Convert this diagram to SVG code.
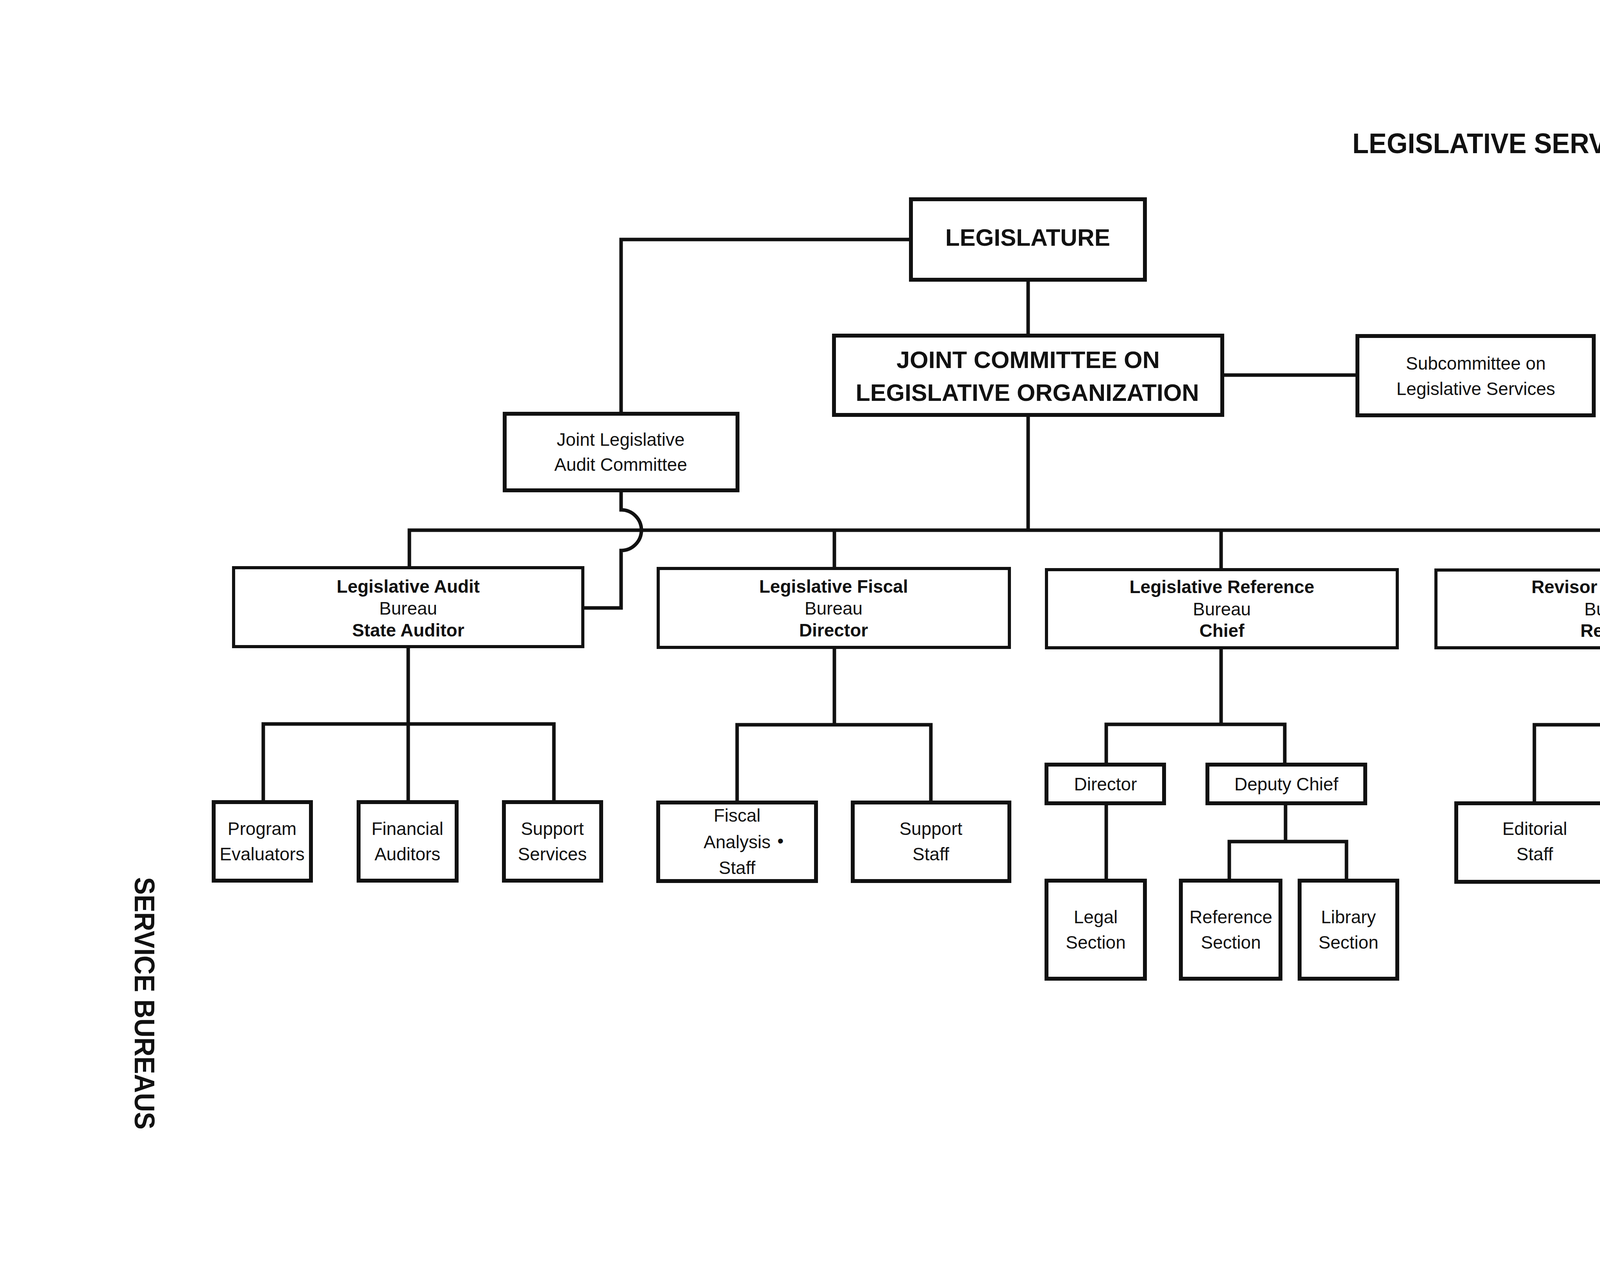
<svg xmlns="http://www.w3.org/2000/svg" width="5220" height="3248" viewBox="0 0 5220 3248">
<style>
.box{fill:#fff;stroke:#111;stroke-width:10}
.bb{stroke-width:8}
.ln{fill:none;stroke:#111;stroke-width:9;stroke-linejoin:miter}
.t{font-family:"Liberation Sans",Arial,sans-serif;font-size:46px;text-anchor:middle;fill:#111}
.b{font-weight:bold}
.hd{font-family:"Liberation Sans",Arial,sans-serif;font-weight:bold;fill:#111}
.sf{font-family:"Liberation Serif","Times New Roman",serif;fill:#111}
</style>
<rect width="5220" height="3248" fill="#fff"/>

<g id="page-labels">
<text class="hd" x="3462" y="392" font-size="72" textLength="1125" lengthAdjust="spacingAndGlyphs">LEGISLATIVE SERVICE BUREAUS</text>
<text class="hd" font-size="72" transform="translate(345,2245) rotate(90)" textLength="646" lengthAdjust="spacingAndGlyphs">SERVICE BUREAUS</text>
<text class="sf" transform="translate(4782,1136) rotate(90)" textLength="778" lengthAdjust="spacingAndGlyphs"><tspan font-size="88">L</tspan><tspan font-size="66">EGISLATIVE </tspan><tspan font-size="88">A</tspan><tspan font-size="66">GENCIES</tspan></text>
<text class="sf" font-weight="bold" font-size="86" transform="translate(4782,2778) rotate(90)" textLength="122" lengthAdjust="spacingAndGlyphs">343</text>
</g>

<g id="connectors">
<path class="ln" d="M2332,613 H1590 V1059"/>
<path class="ln" d="M2632,716 V859"/>
<path class="ln" d="M3129,960 H3475"/>
<path class="ln" d="M2632,1062 V1357"/>
<path class="ln" d="M1048,1453 V1357 H4131 V1459"/>
<path class="ln" d="M2136,1357 V1455"/>
<path class="ln" d="M3126,1357 V1458"/>
<path class="ln" d="M1590,1255 V1305 A52,52 0 0 1 1590,1409 V1556 H1492"/>
<path class="ln" d="M1045,1655 V2053"/>
<path class="ln" d="M674,2053 V1853 H1418 V2053"/>
<path class="ln" d="M2136,1657 V1855"/>
<path class="ln" d="M1887,2054 V1855 H2383 V2054"/>
<path class="ln" d="M3126,1658 V1854"/>
<path class="ln" d="M2832,1957 V1854 H3289 V1957"/>
<path class="ln" d="M2832,2056 V2254"/>
<path class="ln" d="M3291,2056 V2154"/>
<path class="ln" d="M3147,2254 V2154 H3447 V2254"/>
<path class="ln" d="M4131,1658 V1855"/>
<path class="ln" d="M3928,2056 V1855 H4380 V2056"/>
</g>

<g id="legislature">
<rect class="box" x="2332" y="510" width="599" height="206"/>
<text class="hd" x="2631" y="629" font-size="62" text-anchor="middle" textLength="422" lengthAdjust="spacingAndGlyphs">LEGISLATURE</text>
</g>

<g id="joint-committee">
<rect class="box" x="2135" y="859" width="994" height="203"/>
<text class="hd" x="2632" y="942" font-size="62" text-anchor="middle" textLength="674" lengthAdjust="spacingAndGlyphs">JOINT COMMITTEE ON</text>
<text class="hd" x="2630" y="1026" font-size="62" text-anchor="middle" textLength="879" lengthAdjust="spacingAndGlyphs">LEGISLATIVE ORGANIZATION</text>
</g>

<g id="subcommittee">
<rect class="box" x="3475" y="860" width="605" height="203"/>
<text class="t" x="3778" y="946">Subcommittee on</text>
<text class="t" x="3778" y="1011">Legislative Services</text>
</g>

<g id="audit-committee">
<rect class="box" x="1292" y="1059" width="596" height="196"/>
<text class="t" x="1589" y="1141">Joint Legislative</text>
<text class="t" x="1589" y="1205">Audit Committee</text>
</g>

<g id="audit-bureau">
<rect class="box bb" x="598" y="1453" width="894" height="202"/>
<text class="t b" x="1045" y="1517">Legislative Audit</text>
<text class="t" x="1045" y="1573">Bureau</text>
<text class="t b" x="1045" y="1629">State Auditor</text>
</g>

<g id="fiscal-bureau">
<rect class="box bb" x="1685" y="1455" width="899" height="202"/>
<text class="t b" x="2134" y="1517">Legislative Fiscal</text>
<text class="t" x="2134" y="1573">Bureau</text>
<text class="t b" x="2134" y="1629">Director</text>
</g>

<g id="reference-bureau">
<rect class="box bb" x="2679" y="1458" width="898" height="200"/>
<text class="t b" x="3128" y="1518">Legislative Reference</text>
<text class="t" x="3128" y="1575">Bureau</text>
<text class="t b" x="3128" y="1630">Chief</text>
</g>

<g id="revisor-bureau">
<rect class="box bb" x="3676" y="1459" width="908" height="199"/>
<text class="t b" x="4130" y="1518">Revisor of Statutes</text>
<text class="t" x="4130" y="1575" fill="#444">Bureau</text>
<text class="t b" x="4130" y="1630">Revisor</text>
</g>

<g id="program-evaluators">
<rect class="box" x="547" y="2053" width="249" height="201"/>
<text class="t" x="671" y="2137">Program</text>
<text class="t" x="671" y="2202">Evaluators</text>
</g>

<g id="financial-auditors">
<rect class="box" x="918" y="2053" width="251" height="201"/>
<text class="t" x="1043" y="2137">Financial</text>
<text class="t" x="1043" y="2202">Auditors</text>
</g>

<g id="support-services">
<rect class="box" x="1290" y="2053" width="249" height="201"/>
<text class="t" x="1414" y="2137">Support</text>
<text class="t" x="1414" y="2202">Services</text>
</g>

<g id="fiscal-analysis">
<rect class="box" x="1685" y="2054" width="404" height="201"/>
<text class="t" x="1887" y="2103">Fiscal</text>
<text class="t" x="1887" y="2171">Analysis</text>
<text class="t" x="1998" y="2168" font-size="30">•</text>
<text class="t" x="1887" y="2237">Staff</text>
</g>

<g id="support-staff">
<rect class="box" x="2183" y="2054" width="401" height="201"/>
<text class="t" x="2383" y="2137">Support</text>
<text class="t" x="2383" y="2202">Staff</text>
</g>

<g id="director">
<rect class="box" x="2679" y="1957" width="301" height="99"/>
<text class="t" x="2830" y="2023">Director</text>
</g>

<g id="deputy-chief">
<rect class="box" x="3091" y="1957" width="404" height="99"/>
<text class="t" x="3293" y="2023">Deputy Chief</text>
</g>

<g id="legal-section">
<rect class="box" x="2679" y="2254" width="252" height="251"/>
<text class="t" x="2805" y="2363">Legal</text>
<text class="t" x="2805" y="2428">Section</text>
</g>

<g id="reference-section">
<rect class="box" x="3023" y="2254" width="255" height="251"/>
<text class="t" x="3151" y="2363">Reference</text>
<text class="t" x="3151" y="2428">Section</text>
</g>

<g id="library-section">
<rect class="box" x="3327" y="2254" width="250" height="251"/>
<text class="t" x="3452" y="2363">Library</text>
<text class="t" x="3452" y="2428">Section</text>
</g>

<g id="editorial-staff">
<rect class="box" x="3728" y="2056" width="402" height="201"/>
<text class="t" x="3929" y="2137">Editorial</text>
<text class="t" x="3929" y="2202">Staff</text>
</g>

<g id="clerical-staff">
<rect class="box" x="4181" y="2056" width="405" height="201"/>
<text class="t" x="4383" y="2137">Clerical</text>
<text class="t" x="4383" y="2202">Staff</text>
</g>
</svg>
